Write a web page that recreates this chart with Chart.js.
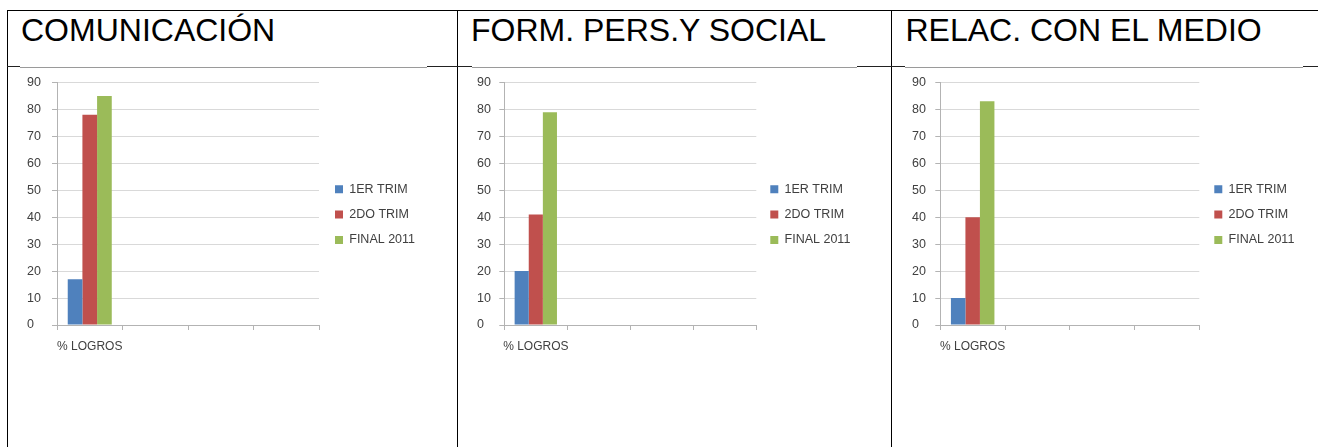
<!DOCTYPE html>
<html>
<head>
<meta charset="utf-8">
<script src="https://cdn.jsdelivr.net/npm/chart.js@4.4.0/dist/chart.umd.min.js"></script>
<style>
html, body { margin: 0; padding: 0; background: #fff; }
body { width: 1318px; height: 447px; position: relative; overflow: hidden; font-family: 'Liberation Sans', Arial, sans-serif; }
.rule { position: absolute; background: #000; }
.title { position: absolute; top: 14.2px; font-size: 32px; line-height: 32px; color: #000; white-space: nowrap; }
.pic { position: absolute; top: 65px; height: 382px; background: linear-gradient(#fff 0, #fff 2px, #9a9a9a 2px, #9a9a9a 3px, #fff 3px); }
canvas { position: absolute; }
</style>
</head>
<body>
<div class="rule" style="left:7px;top:10px;width:1311px;height:1px"></div>
<div class="rule" style="left:7px;top:10px;width:1px;height:437px"></div>
<div class="rule" style="left:457px;top:10px;width:1px;height:437px"></div>
<div class="rule" style="left:891px;top:10px;width:1px;height:437px"></div>
<div class="rule" style="left:7px;top:65.5px;width:1311px;height:1.5px;background:#222"></div>

<div class="pic" style="left:20px;width:407px"></div>
<div class="pic" style="left:472px;width:385px"></div>
<div class="pic" style="left:905px;width:398px"></div>

<div class="title" id="t0" style="left:21px"></div>
<div class="title" id="t1" style="left:471px"></div>
<div class="title" id="t2" style="left:905.5px"></div>

<canvas id="c0"></canvas>
<canvas id="c1"></canvas>
<canvas id="c2"></canvas>

<script>
const titles = ['COMUNICACIÓN', 'FORM. PERS.Y SOCIAL', 'RELAC. CON EL MEDIO'];
const categories = ['% LOGROS', '', '', ''];
const seriesNames = ['1ER TRIM', '2DO TRIM', 'FINAL 2011'];
const seriesColors = ['#4F81BD', '#C0504D', '#9BBB59'];
const yTicks = [0, 10, 20, 30, 40, 50, 60, 70, 80, 90];

// one value per series (1ER TRIM, 2DO TRIM, FINAL 2011), only the first category is filled
const comunicacion = [17, 78, 85];
const formPersSocial = [20, 41, 79];
const relacMedio = [10, 40, 83];

const panels = [
    { values: comunicacion, labelLeft: 27, axisLeft: 57, axisRight: 319, boxX: 335 },
    { values: formPersSocial, labelLeft: 476.7, axisLeft: 504, axisRight: 756, boxX: 770 },
    { values: relacMedio, labelLeft: 911.7, axisLeft: 940, axisRight: 1199, boxX: 1214 }
];

const FAMILY = "'Liberation Sans', Arial, sans-serif";
const textColor = '#404040';
const gridColor = '#d9d9d9';
const axisColor = '#b3b3b3';
const legendFont = 12.5;
const legendPad = 12.8;
const boxSize = 8;

const canvasTop = 70;
const canvasHeight = 297;
const spacer = 8.3;          // empty title block, pulls the legend column up
const padTop = 12.5 - spacer;
const padBottom = 12;
const xAxisHeight = 30;
const padLeft = 7;

const measure = document.createElement('canvas').getContext('2d');
measure.font = legendFont + 'px ' + FAMILY;
const widestName = Math.max(...seriesNames.map(n => measure.measureText(n).width));
const legendWidth = legendPad + boxSize + legendFont / 2 + widestName + 10;

panels.forEach((p, idx) => {
    document.getElementById('t' + idx).textContent = titles[idx];

    const canvasLeft = p.labelLeft - padLeft;
    const extra = p.boxX - p.axisRight - legendPad;
    const inner = p.axisRight - canvasLeft + extra + legendWidth;
    const width = Math.ceil(inner + 4);
    const padRight = width - inner;

    const cv = document.getElementById('c' + idx);
    cv.width = width;
    cv.height = canvasHeight;
    cv.style.left = canvasLeft + 'px';
    cv.style.top = canvasTop + 'px';
    cv.style.width = width + 'px';
    cv.style.height = canvasHeight + 'px';

    const datasets = seriesNames.map((name, i) => ({
        label: name,
        data: categories.map((c, j) => j === 0 ? p.values[i] : null),
        backgroundColor: seriesColors[i],
        borderWidth: 0,
        categoryPercentage: 0.672,
        barPercentage: 1
    }));

    new Chart(cv.getContext('2d'), {
        type: 'bar',
        data: { labels: categories, datasets },
        options: {
            responsive: false,
            animation: false,
            layout: { padding: { top: padTop, bottom: padBottom, left: padLeft, right: padRight } },
            plugins: {
                tooltip: { enabled: false },
                title: {
                    display: true,
                    text: ' ',
                    font: { size: 1, lineHeight: 1 },
                    padding: { top: 0, bottom: spacer - 1 }
                },
                legend: {
                    position: 'right',
                    align: 'center',
                    maxWidth: 1000,
                    labels: {
                        color: textColor,
                        font: { family: FAMILY, size: legendFont },
                        boxWidth: boxSize,
                        boxHeight: boxSize,
                        padding: legendPad
                    }
                }
            },
            scales: {
                x: {
                    grid: { display: true, drawOnChartArea: false, drawTicks: true, tickLength: 5, tickColor: axisColor },
                    border: { color: axisColor },
                    ticks: { color: textColor, font: { family: FAMILY, size: 12 }, padding: 9.5, maxRotation: 0, autoSkip: false },
                    afterFit: s => { s.height = xAxisHeight; }
                },
                y: {
                    min: yTicks[0],
                    max: yTicks[yTicks.length - 1],
                    afterBuildTicks: s => { s.ticks = yTicks.map(v => ({ value: v })); },
                    grid: { color: gridColor, tickLength: 5, tickColor: axisColor },
                    border: { color: axisColor },
                    ticks: { color: textColor, font: { family: FAMILY, size: 12.5 }, crossAlign: 'far', padding: 3 },
                    afterFit: s => { s.width = p.axisLeft - p.labelLeft; }
                },
                gap: {
                    position: 'right',
                    grid: { display: false },
                    border: { display: false },
                    ticks: { display: false },
                    afterFit: s => { s.width = extra; }
                }
            }
        }
    });
});
</script>
</body>
</html>
